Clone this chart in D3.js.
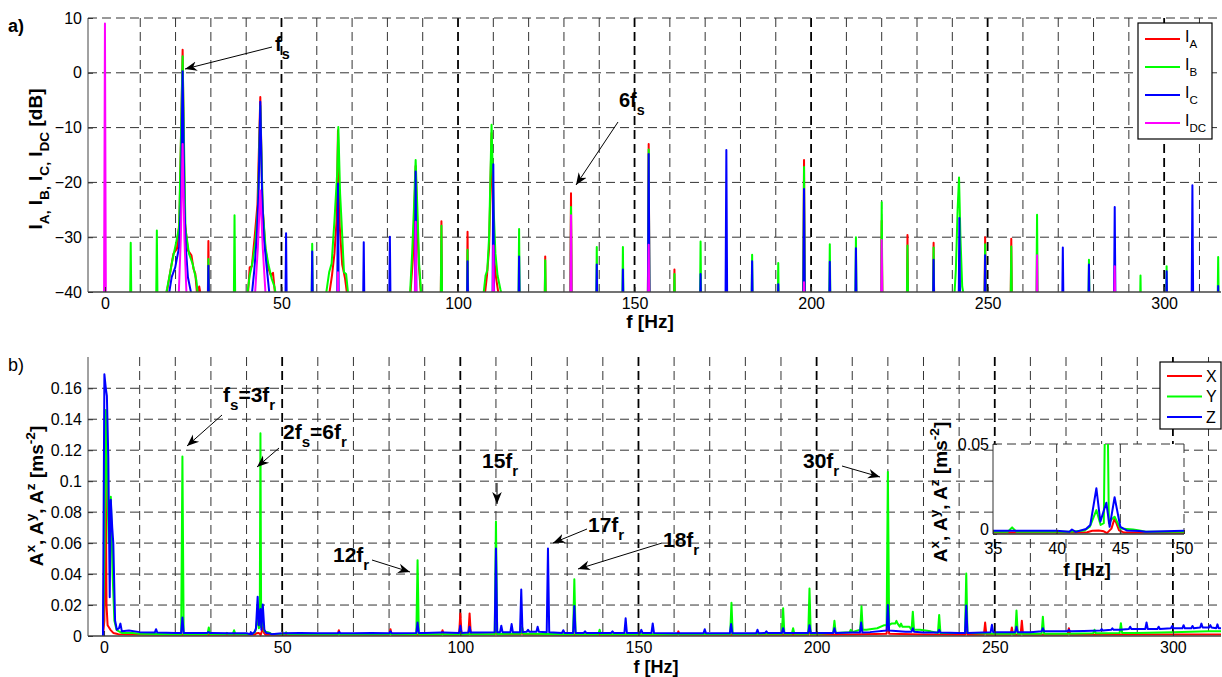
<!DOCTYPE html>
<html>
<head>
<meta charset="utf-8">
<script src="https://cdn.jsdelivr.net/npm/d3@7"></script>
<style>
  body { margin: 0; background: #fff; }
  svg { display: block; }
  text { font-family: "Liberation Sans", Arial, sans-serif; }
</style>
</head>
<body>
<div id="chart"></div>
<script>
// ---- panel a) current spectra [dB], narrow harmonic spikes [f, dB]
const iaSpikes = [[29.3,-30.7],[95.3,-27.1],[102.7,-29],[124.7,-33.5],[132,-22],[154,-13],[161.3,-35.9],[198,-15.9],[220,-27],[227.3,-29.6],[234.7,-31],[249.3,-30],[256.7,-30.3]];
const ibSpikes = [[7.3,-31],[14.7,-28.8],[29.3,-34],[36.7,-26],[58.7,-31.2],[95.3,-27.9],[102.7,-32.3],[117.3,-28.5],[124.7,-34.2],[132,-24.5],[139.3,-31.8],[146.7,-31.8],[154,-14],[161.3,-36.7],[168.7,-30.8],[183.3,-33.2],[190.7,-34.7],[198,-17.2],[205.3,-31.3],[212.7,-30],[220,-23.6],[227.3,-31.5],[234.7,-31.9],[249.3,-31.3],[256.7,-31.7],[264,-25.9],[278.7,-34.1],[293.3,-37],[300.7,-35.3],[315.3,-33.6]];
const icSpikes = [[29.3,-35.2],[51.3,-29.3],[58.7,-32.6],[66,-20.2],[73.3,-30.9],[80.7,-29.9],[88,-18],[102.7,-34.4],[110,-16.7],[117.3,-33.5],[139.3,-35],[146.7,-35.9],[154,-14.8],[168.7,-36.7],[176,-14.1],[183.3,-34.4],[190.7,-38.6],[198,-21.2],[205.3,-34.5],[212.7,-32],[234.7,-34.1],[242,-26.5],[249.3,-33.3],[271.3,-31.9],[278.7,-35],[286,-24.5],[300.7,-36.2],[308,-20.5],[315.3,-38.9]];
const idcSpikes = [[0,9],[66,-36.4],[88,-27.2],[110,-31.5],[132,-26],[154,-31.4],[198,-38.2],[220,-30.5],[264,-33.3],[286,-35.3]];

// broad peaks with skirts
const iaSkirts = [
  [[17.4,-40.5],[18.4,-36.7],[19.4,-33],[20.4,-32.1],[21.1,-27],[22,4.2],[22.6,-27],[23.5,-32.4],[24.5,-33.3],[25.1,-35.8],[25.6,-36.7],[26.1,-40.5],[26.7,-39],[27.1,-40.5]],
  [[40.5,-40.5],[41,-35.5],[41.6,-35.3],[42.4,-30],[43.2,-24],[44,-4.4],[44.6,-24],[45.4,-31.8],[46.2,-35.5],[47,-37],[47.6,-36.5],[48.2,-40.5]],
  [[63.5,-40.5],[64.3,-37],[65,-33],[65.6,-27],[66,-10.5],[66.5,-28],[67.2,-35],[68,-37.5],[68.6,-40.5]],
  [[86.5,-40.5],[87.2,-34],[87.6,-26],[88,-17],[88.4,-26],[88.9,-35],[89.5,-40.5]],
  [[107.6,-40.5],[108.2,-37],[108.8,-32],[109.5,-11],[110.1,-33],[110.8,-37.5],[111.5,-40.5]]
];
const ibSkirts = [
  [[17.2,-40.5],[17.6,-39.4],[18.4,-36.7],[19.1,-34.2],[20.1,-31.2],[21,-28.2],[22,3],[22.8,-28.5],[23.8,-33],[24.8,-34.8],[25.9,-37.9],[26.3,-40.5]],
  [[40.3,-40.5],[41,-37],[41.8,-34.5],[42.6,-31],[43.3,-25],[44,-6],[44.7,-25],[45.5,-32],[46.3,-35],[47.2,-37.5],[48,-39],[48.4,-40.5]],
  [[62.6,-40.5],[63.5,-36.4],[64.2,-34.8],[65,-27],[65.8,-18],[66.1,-9.9],[66.6,-22],[67,-27],[67.7,-36.4],[68.3,-36.7],[68.9,-40.5]],
  [[86.4,-40.5],[87,-33],[87.5,-25],[88,-15.9],[88.5,-25],[89,-35],[89.6,-40.5]],
  [[107.2,-40.5],[107.8,-37],[108.3,-36],[108.8,-30],[109.5,-9.5],[110.1,-25],[110.6,-33],[111.2,-37],[112,-39.5],[112.4,-40.5]],
  [[240.6,-40.5],[241,-36],[241.5,-25],[241.9,-19.1],[242.3,-30],[242.8,-39],[243.2,-40.5]]
];
const icSkirts = [
  [[18.1,-40.5],[18.9,-37.3],[19.9,-35.5],[21,-31.8],[21.5,-24],[22,0.3],[22.5,-24],[22.9,-31.8],[23.5,-37.3],[24.5,-40.5]],
  [[41.6,-40.5],[42.3,-36],[43,-30],[43.5,-22],[44,-5.3],[44.5,-22],[45,-30],[45.8,-35.4],[46.6,-40.5]]
];
const idcSkirts = [
  [[20.9,-40.5],[21.5,-30],[22,-13],[22.5,-30],[23.1,-40.5]],
  [[42.5,-40.5],[43.3,-32],[44,-21.5],[44.7,-32],[45.5,-40.5]]
];

// ---- panel b) vibration spectra [m/s^2]
const xLow = [[-0.3,0],[0.1,0.01],[0.4,0.13],[0.7,0.02],[1,0.007],[1.8,0.004],[2.6,0.002],[3.5,0.0015]];
const yLow = [[-0.3,0],[0.1,0.053],[0.5,0.146],[0.9,0.1],[1.3,0.06],[1.9,0.09],[2.4,0.04],[2.9,0.01],[3.5,0.004],[4.2,0.003]];
const zLow = [[-0.3,0],[0.1,0.169],[0.5,0.16],[0.8,0.155],[1.2,0.115],[1.6,0.025],[1.9,0.088],[2.3,0.07],[2.6,0.06],[3.1,0.01],[3.6,0.004],[4.2,0.005],[4.6,0.008]];

const x44 = [[42.4,0.001],[42.8,0.0018],[43.3,0.002],[43.7,0.0015],[43.95,0.0005],[44.3,0.003],[44.55,0.0087],[44.9,0.002],[45.3,0.0008]];
const y44 = [[41,0.0012],[42.2,0.002],[42.6,0.004],[43.12,0.0133],[43.45,0.005],[43.7,0.006],[43.9,0.131],[44.1,0.006],[44.3,0.008],[44.55,0.0096],[45,0.003],[46,0.0025],[46.5,0.002],[47,0.0012]];
const z44 = [[41,0.0012],[41.2,0.0025],[41.5,0.0012],[42.3,0.0028],[42.64,0.005],[43.12,0.0254],[43.43,0.0069],[43.9,0.0174],[44.16,0.004],[44.55,0.0204],[45,0.004],[45.5,0.002],[46.5,0.0017],[47,0.0012]];

const xFloor = [[4,0.0012],[8,0.0009],[15,0.0008],[30,0.0008],[40,0.0008],[50,0.0007],[70,0.0008],[90,0.0008],[110,0.001],[130,0.0008],[150,0.0008],[170,0.0008],[190,0.0008],[210,0.001],[220,0.0015],[230,0.001],[250,0.0008],[270,0.0008],[290,0.0009],[310,0.001],[313.5,0.001]];
const yFloor = [[5,0.002],[8,0.002],[10,0.0015],[15,0.0013],[20,0.0012],[30,0.0013],[40,0.0012],[50,0.0013],[60,0.0012],[70,0.0012],[80,0.0013],[90,0.0012],[100,0.0012],[110,0.0013],[120,0.0015],[130,0.0012],[140,0.0012],[150,0.0012],[160,0.0012],[170,0.0013],[180,0.0013],[190,0.0015],[200,0.0015],[205,0.002],[210,0.0025],[214,0.004],[217,0.005],[219,0.007],[221,0.008],[224,0.006],[229,0.004],[232,0.003],[236,0.002],[240,0.002],[250,0.0015],[260,0.0015],[270,0.0015],[280,0.0018],[290,0.002],[300,0.0025],[310,0.003],[313.5,0.003]];
const zFloor = [[5,0.003],[7,0.0035],[10,0.0025],[15,0.0022],[20,0.002],[25,0.002],[30,0.002],[35,0.0018],[40,0.0018],[50,0.0018],[55,0.002],[60,0.0018],[70,0.0018],[75,0.002],[80,0.0018],[90,0.002],[95,0.0022],[100,0.002],[105,0.0022],[110,0.0025],[115,0.0025],[120,0.0028],[125,0.0025],[130,0.002],[140,0.002],[150,0.002],[160,0.0018],[170,0.0018],[180,0.0018],[190,0.002],[200,0.002],[210,0.0022],[215,0.0025],[220,0.0035],[225,0.0028],[230,0.0022],[240,0.002],[250,0.0025],[260,0.0025],[265,0.003],[270,0.003],[275,0.0032],[280,0.0035],[285,0.004],[290,0.0045],[295,0.0045],[300,0.005],[305,0.005],[310,0.0055],[313.5,0.005]];

const xPeaks = [[65.9,0.0037],[80.4,0.0044],[95,0.0037],[100,0.0146],[102.6,0.0146],[110,0.004],[117.3,0.006],[161.2,0.003],[198,0.006],[220,0.027],[242,0.004],[247.3,0.0087],[254.8,0.0055],[257.6,0.0098],[270.8,0.005]];
const yPeaks = [[22,0.116],[29.4,0.0055],[34.5,0.002],[36.5,0.0037],[51.1,0.0024],[88,0.049],[110,0.074],[117.3,0.006],[132,0.0367],[139.1,0.004],[176.1,0.0214],[190.6,0.018],[193.4,0.005],[198,0.0306],[205,0.0098],[209.6,0.004],[212.6,0.0192],[220,0.106],[222.4,0.0098],[223.7,0.008],[225.7,0.006],[227,0.0157],[234.4,0.0136],[242,0.0404],[256.1,0.0164],[263.5,0.0125],[278,0.004],[285.4,0.0083]];
const zPeaks = [[14.6,0.0044],[22,0.012],[29.3,0.0025],[66,0.0025],[80.4,0.003],[88,0.0087],[95,0.0025],[100,0.0066],[102.6,0.006],[110,0.0565],[111.5,0.0066],[114.4,0.0077],[117.1,0.03],[119,0.004],[121.7,0.006],[124.6,0.0565],[128.9,0.0037],[132,0.0193],[135,0.003],[142.7,0.003],[146.4,0.0114],[150.8,0.004],[154,0.0081],[168.6,0.0044],[176,0.0077],[183.4,0.004],[185.9,0.003],[190.6,0.005],[198,0.007],[205,0.005],[212.5,0.0087],[220,0.02],[227,0.005],[234.4,0.004],[242,0.0197],[249.2,0.0072],[256.1,0.006],[263.5,0.005],[270.8,0.004],[280,0.0045],[283,0.005],[288,0.006],[292.6,0.0087],[296,0.006],[299.8,0.0065],[303,0.007],[305.5,0.0065],[308,0.008],[310.5,0.007],[312.5,0.0075]];

const topTicksX = [0, 50, 100, 150, 200, 250, 300];
const topTicksY = [-40, -30, -20, -10, 0, 10];
const botTicksY = [0, 0.02, 0.04, 0.06, 0.08, 0.1, 0.12, 0.14, 0.16];
const insetTicksX = [35, 40, 45, 50];
const insetTicksY = [0, 0.05];

const topNames = ["A", "B", "C", "DC"];
const botNames = ["X", "Y", "Z"];
const colors = ["#ff0000", "#00ff00", "#0000ff", "#ff00ff"];

// ---- helpers
function spikeSeries(spikes, skirts) {
  const segs = spikes.map(([f, v]) => [[f - 0.3, -50], [f, v], [f + 0.3, -50]]).concat(skirts);
  segs.sort((a, b) => a[0][0] - b[0][0]);
  return segs.flat();
}

function nearestFloor(floor, f) {
  let best = floor[0];
  floor.forEach(p => { if (Math.abs(p[0] - f) < Math.abs(best[0] - f)) best = p; });
  return best[1];
}

function buildBottom(low, floor, peaks, cluster) {
  const w = 0.35;
  const ranges = [[low[0][0], low[low.length - 1][0]], [cluster[0][0], cluster[cluster.length - 1][0]]];
  const pts = [];
  floor.forEach(p => {
    const inCluster = ranges.some(([a, b]) => p[0] >= a && p[0] <= b);
    const nearPeak = peaks.some(q => Math.abs(q[0] - p[0]) < w * 1.5);
    if (!inCluster && !nearPeak) pts.push(p);
  });
  low.forEach(p => pts.push(p));
  cluster.forEach(p => pts.push(p));
  peaks.forEach(([f, a]) => {
    const b = nearestFloor(floor, f);
    pts.push([f - w, b], [f, a], [f + w, b]);
  });
  return pts.sort((a, b) => a[0] - b[0]);
}

function richText(sel, parts, size) {
  const t = sel.append("text").attr("font-size", size);
  let shift = 0;
  parts.forEach(p => {
    const target = p.sub ? size * 0.38 : p.sup ? -size * 0.42 : 0;
    t.append("tspan")
      .attr("dy", target - shift)
      .attr("font-size", (p.sub || p.sup) ? size * 0.72 : size)
      .text(p.t);
    shift = target;
  });
  return t;
}

// ---- svg
const svg = d3.select("#chart").append("svg").attr("width", 1222).attr("height", 677);
const defs = svg.append("defs");
defs.append("marker").attr("id", "arr")
  .attr("viewBox", "0 0 10 10").attr("refX", 10).attr("refY", 5)
  .attr("markerWidth", 12).attr("markerHeight", 12)
  .attr("markerUnits", "userSpaceOnUse").attr("orient", "auto")
  .append("path").attr("d", "M0,1 L10,5 L0,9 L3,5 z").attr("fill", "#000");

defs.append("clipPath").attr("id", "clipTop").append("rect").attr("x", 88).attr("y", 17).attr("width", 1134).attr("height", 275);
defs.append("clipPath").attr("id", "clipBot").append("rect").attr("x", 88).attr("y", 357).attr("width", 1134).attr("height", 280);
defs.append("clipPath").attr("id", "clipIn").append("rect").attr("x", 993).attr("y", 444).attr("width", 191).attr("height", 90);

const xTop = d3.scaleLinear().domain([-4.8, 316.1]).range([88, 1221]);
const yTop = d3.scaleLinear().domain([-40, 10]).range([292, 18]);
const xBot = d3.scaleLinear().domain([-4.5, 313.5]).range([88, 1221]);
const yBot = d3.scaleLinear().domain([0, 0.18]).range([636, 357.3]);
const xIn = d3.scaleLinear().domain([35, 50]).range([993, 1184]);
const yIn = d3.scaleLinear().domain([0, 0.05]).range([534, 444]);

function grid(g, xs, ys, xv, yv, x0, x1, y0, y1) {
  xv.forEach(v => {
    const major = v % 50 === 0;
    g.append("line").attr("x1", xs(v)).attr("x2", xs(v)).attr("y1", y0).attr("y2", y1)
      .attr("stroke", major ? "#000" : "#333").attr("stroke-width", major ? 1.8 : 1)
      .attr("stroke-dasharray", "9,5");
  });
  yv.forEach(v => {
    g.append("line").attr("x1", x0).attr("x2", x1).attr("y1", ys(v)).attr("y2", ys(v))
      .attr("stroke", "#333").attr("stroke-width", 1).attr("stroke-dasharray", "9,5");
  });
}

function styleAxis(g, size) {
  g.select(".domain").remove();
  g.selectAll(".tick line").attr("stroke", "#333");
  g.selectAll("text").attr("font-size", size).attr("font-family", null).attr("fill", "#000");
  g.attr("font-family", null);
}

// ================= panel a)
const gTop = svg.append("g");
grid(gTop, xTop, yTop, d3.range(10, 320, 10), [-30, -20, -10, 0, 10], 88, 1221, 18, 292);

const topData = [
  spikeSeries(iaSpikes, iaSkirts),
  spikeSeries(ibSpikes, ibSkirts),
  spikeSeries(icSpikes, icSkirts),
  spikeSeries(idcSpikes, idcSkirts)
];
const lineTop = d3.line().x(d => xTop(d[0])).y(d => yTop(d[1]));
gTop.append("g").attr("clip-path", "url(#clipTop)")
  .selectAll("path").data(topData).join("path")
  .attr("d", lineTop).attr("fill", "none")
  .attr("stroke", (d, i) => colors[i]).attr("stroke-width", 2).attr("stroke-linejoin", "round");

gTop.append("line").attr("x1", 88).attr("x2", 1221).attr("y1", 292).attr("y2", 292).attr("stroke", "#444").attr("stroke-width", 1.6);
gTop.append("line").attr("x1", 88).attr("x2", 88).attr("y1", 18).attr("y2", 292).attr("stroke", "#444").attr("stroke-width", 1);

gTop.append("g").attr("transform", "translate(0,292)")
  .call(d3.axisBottom(xTop).tickValues(topTicksX).tickSize(-5).tickPadding(6))
  .call(g => styleAxis(g, 16));
gTop.append("g").attr("transform", "translate(88,0)")
  .call(d3.axisLeft(yTop).tickValues(topTicksY).tickSize(-5).tickPadding(6))
  .call(g => styleAxis(g, 16));

gTop.append("text").attr("x", 650).attr("y", 328).attr("text-anchor", "middle")
  .attr("font-size", 19).attr("font-weight", "bold").text("f [Hz]");
richText(gTop.append("g").attr("transform", "translate(42,159) rotate(-90)"),
  [{t: "I"}, {t: "A,", sub: true}, {t: " I"}, {t: "B,", sub: true}, {t: " I"}, {t: "C,", sub: true}, {t: " I"}, {t: "DC", sub: true}, {t: " [dB]"}], 19)
  .attr("text-anchor", "middle").attr("font-weight", "bold");
svg.append("text").attr("x", 8).attr("y", 32).attr("font-size", 18).attr("font-weight", "bold").text("a)");

// legend a)
const legA = gTop.append("g");
legA.append("rect").attr("x", 1138).attr("y", 23).attr("width", 74).attr("height", 116)
  .attr("fill", "#fff").attr("stroke", "#000").attr("stroke-width", 1.2);
topNames.forEach((n, i) => {
  const ly = 39 + i * 28;
  legA.append("line").attr("x1", 1145).attr("x2", 1180).attr("y1", ly).attr("y2", ly)
    .attr("stroke", colors[i]).attr("stroke-width", 2);
  richText(legA.append("g").attr("transform", `translate(1185,${ly + 3})`), [{t: "I"}, {t: n, sub: true}], 16);
});

// annotations a)
richText(gTop.append("g").attr("transform", "translate(275,51)"), [{t: "f"}, {t: "s", sub: true}], 20).attr("font-weight", "bold");
gTop.append("line").attr("x1", 272).attr("y1", 47).attr("x2", 185).attr("y2", 69)
  .attr("stroke", "#000").attr("stroke-width", 1).attr("marker-end", "url(#arr)");
richText(gTop.append("g").attr("transform", "translate(619,107)"), [{t: "6f"}, {t: "s", sub: true}], 20).attr("font-weight", "bold");
gTop.append("line").attr("x1", 618).attr("y1", 122).attr("x2", 576).attr("y2", 185)
  .attr("stroke", "#000").attr("stroke-width", 1).attr("marker-end", "url(#arr)");

// ================= panel b)
const gBot = svg.append("g");
grid(gBot, xBot, yBot, d3.range(10, 320, 10), [0.02, 0.04, 0.06, 0.08, 0.1, 0.12, 0.14, 0.16], 88, 1221, 357, 636);

const botData = [
  buildBottom(xLow, xFloor, xPeaks, x44),
  buildBottom(yLow, yFloor, yPeaks, y44),
  buildBottom(zLow, zFloor, zPeaks, z44)
];
const lineBot = d3.line().x(d => xBot(d[0])).y(d => yBot(d[1]));
gBot.append("g").attr("clip-path", "url(#clipBot)")
  .selectAll("path").data(botData).join("path")
  .attr("d", lineBot).attr("fill", "none")
  .attr("stroke", (d, i) => colors[i]).attr("stroke-width", 2).attr("stroke-linejoin", "round");

gBot.append("line").attr("x1", 88).attr("x2", 1221).attr("y1", 636).attr("y2", 636).attr("stroke", "#444").attr("stroke-width", 1.4);
gBot.append("line").attr("x1", 88).attr("x2", 88).attr("y1", 357).attr("y2", 636).attr("stroke", "#444").attr("stroke-width", 1);

gBot.append("g").attr("transform", "translate(0,636)")
  .call(d3.axisBottom(xBot).tickValues(topTicksX).tickSize(-5).tickPadding(6))
  .call(g => styleAxis(g, 16));
gBot.append("g").attr("transform", "translate(88,0)")
  .call(d3.axisLeft(yBot).tickValues(botTicksY).tickSize(-5).tickPadding(6).tickFormat(d3.format("~g")))
  .call(g => styleAxis(g, 16));

gBot.append("text").attr("x", 656).attr("y", 673).attr("text-anchor", "middle")
  .attr("font-size", 18).attr("font-weight", "bold").text("f [Hz]");
const accLabel = [{t: "A"}, {t: "x", sup: true}, {t: ", A"}, {t: "y", sup: true}, {t: ", A"}, {t: "z", sup: true}, {t: " [ms"}, {t: "-2", sup: true}, {t: "]"}];
richText(gBot.append("g").attr("transform", "translate(43,496) rotate(-90)"), accLabel, 19)
  .attr("text-anchor", "middle").attr("font-weight", "bold");
svg.append("text").attr("x", 8).attr("y", 371).attr("font-size", 18).text("b)");

// legend b)
const legB = gBot.append("g");
legB.append("rect").attr("x", 1160).attr("y", 362).attr("width", 61).attr("height", 67)
  .attr("fill", "#fff").attr("stroke", "#000").attr("stroke-width", 1.2);
botNames.forEach((n, i) => {
  const ly = 376 + i * 20.5;
  legB.append("line").attr("x1", 1167).attr("x2", 1202).attr("y1", ly).attr("y2", ly)
    .attr("stroke", colors[i]).attr("stroke-width", 2);
  legB.append("text").attr("x", 1206).attr("y", ly + 5.5).attr("font-size", 16).text(n);
});

// annotations b)
const notes = [
  {x: 223, y: 402, parts: [{t: "f"}, {t: "s", sub: true}, {t: "=3f"}, {t: "r", sub: true}], a: [222, 415, 187, 446]},
  {x: 283, y: 439, parts: [{t: "2f"}, {t: "s", sub: true}, {t: "=6f"}, {t: "r", sub: true}], a: [279, 448, 257, 467]},
  {x: 482, y: 468, parts: [{t: "15f"}, {t: "r", sub: true}], a: [497, 483, 497, 504]},
  {x: 333, y: 562, parts: [{t: "12f"}, {t: "r", sub: true}], a: [372, 560, 410, 572]},
  {x: 588, y: 532, parts: [{t: "17f"}, {t: "r", sub: true}], a: [587, 529, 553, 543]},
  {x: 663, y: 547, parts: [{t: "18f"}, {t: "r", sub: true}], a: [662, 543, 578, 569]},
  {x: 803, y: 468, parts: [{t: "30f"}, {t: "r", sub: true}], a: [842, 466, 880, 477]}
];
notes.forEach(n => {
  richText(gBot.append("g").attr("transform", `translate(${n.x},${n.y})`), n.parts, 21).attr("font-weight", "bold");
  gBot.append("line").attr("x1", n.a[0]).attr("y1", n.a[1]).attr("x2", n.a[2]).attr("y2", n.a[3])
    .attr("stroke", "#000").attr("stroke-width", 1).attr("marker-end", "url(#arr)");
});

// ================= inset
const gIn = svg.append("g");
gIn.append("rect").attr("x", 993).attr("y", 444).attr("width", 191).attr("height", 90).attr("fill", "#fff");
[40, 45, 50].forEach(v => {
  gIn.append("line").attr("x1", xIn(v)).attr("x2", xIn(v)).attr("y1", 444).attr("y2", 534)
    .attr("stroke", "#333").attr("stroke-dasharray", "9,5");
});
gIn.append("line").attr("x1", 993).attr("x2", 1184).attr("y1", yIn(0.05)).attr("y2", yIn(0.05))
  .attr("stroke", "#333").attr("stroke-dasharray", "9,5");
const lineIn = d3.line().x(d => xIn(d[0])).y(d => yIn(d[1]));
gIn.append("g").attr("clip-path", "url(#clipIn)")
  .selectAll("path").data(botData).join("path")
  .attr("d", lineIn).attr("fill", "none")
  .attr("stroke", (d, i) => colors[i]).attr("stroke-width", 2).attr("stroke-linejoin", "round");
gIn.append("line").attr("x1", 993).attr("x2", 1184).attr("y1", 534).attr("y2", 534).attr("stroke", "#333").attr("stroke-width", 1.4);
gIn.append("line").attr("x1", 993).attr("x2", 993).attr("y1", 444).attr("y2", 534).attr("stroke", "#333");
gIn.append("g").attr("transform", "translate(0,534)")
  .call(d3.axisBottom(xIn).tickValues(insetTicksX).tickSize(-4).tickPadding(9))
  .call(g => styleAxis(g, 16));
const inY = gIn.append("g").attr("transform", "translate(993,0)")
  .call(d3.axisLeft(yIn).tickValues(insetTicksY).tickSize(-4).tickPadding(4).tickFormat(d3.format("~g")))
  .call(g => styleAxis(g, 16));
inY.selectAll(".tick text").filter(d => d === 0).attr("dy", "0.05em");
gIn.append("text").attr("x", 1087).attr("y", 576).attr("text-anchor", "middle")
  .attr("font-size", 19).attr("font-weight", "bold").text("f [Hz]");
richText(gIn.append("g").attr("transform", "translate(947,492) rotate(-90)"), accLabel, 19)
  .attr("text-anchor", "middle").attr("font-weight", "bold");
</script>
</body>
</html>
